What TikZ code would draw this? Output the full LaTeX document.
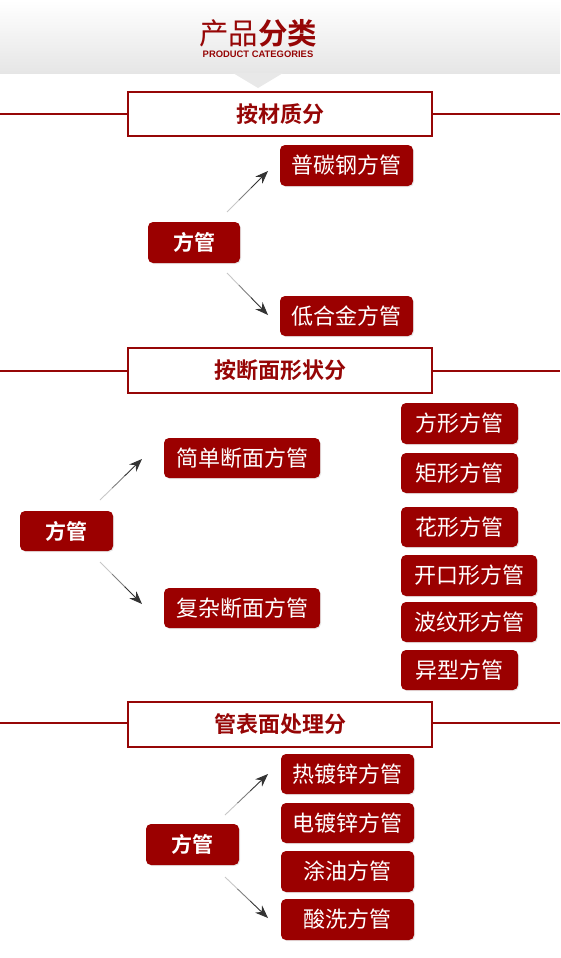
\documentclass[tikz,border=0pt]{standalone}
\usepackage{fontspec}
\newfontfamily\cjk{Noto Sans CJK SC}[BoldFont={Noto Sans CJK SC Bold}]
\newfontfamily\latinf{Liberation Sans}
\usetikzlibrary{arrows.meta,shadows,calc}
\definecolor{dred}{RGB}{155,0,0}
\definecolor{hred}{RGB}{150,6,6}
\newcommand\fadearr[2]{%
  \draw[draw=black!22, line width=0.9pt] (#1) -- ($(#1)!0.3!(#2)$);
  \draw[draw=black!50, line width=0.9pt] ($(#1)!0.29!(#2)$) -- ($(#1)!0.6!(#2)$);
  \draw[arr] ($(#1)!0.59!(#2)$) -- (#2);}
\begin{document}
\begin{tikzpicture}[x=1pt,y=-1pt,
  redbox/.style={fill=dred, rounded corners=5pt, text=white, inner sep=0pt,
    font=\cjk\fontsize{22}{22}\selectfont,
    drop shadow={opacity=0.18, shadow xshift=1pt, shadow yshift=-1pt}},
  rootbox/.style={redbox, font=\cjk\bfseries\fontsize{21}{21}\selectfont},
  secbox/.style={draw=hred, line width=2.6pt, fill=white, inner sep=0pt,
    minimum width=304pt, minimum height=44pt, text=hred,
    font=\cjk\bfseries\fontsize{22}{22}\selectfont},
  secline/.style={draw=hred, line width=2.6pt},
  arr/.style={draw=black!80, line width=0.9pt, -{Stealth[length=13pt,width=10pt]}}]
\useasboundingbox (0,0) rectangle (560,958);
\fill[white] (0,0) rectangle (560,958);
% header band
\shade[top color=white, bottom color=black!10] (0,0) rectangle (560,73);
\fill[black!9] (233,73) -- (283,73) -- (258,88) -- cycle;
\node[text=hred, font=\cjk\fontsize{29.5}{30}\selectfont, inner sep=0pt] (title) at (258,33)
  {产品\textbf{分类}};
\node[text=hred, font=\latinf\bfseries\fontsize{9.4}{10}\selectfont, inner sep=0pt] (sub) at (258,54)
  {PRODUCT CATEGORIES};

% ---------- section 1
\draw[secline] (0,114) -- (560,114);
\node[secbox] (s1) at (280,114) {按材质分};
\node[rootbox, minimum width=92pt, minimum height=41pt] (r1) at (194,242.5) {方管};
\node[redbox, minimum width=133pt, minimum height=41pt] (pt) at (346.5,165.5) {普碳钢方管};
\node[redbox, minimum width=133pt, minimum height=40pt] (dh) at (346.5,316) {低合金方管};
\coordinate (a1s) at (227,212); \coordinate (a1e) at (268,171);
\coordinate (a2s) at (227,273); \coordinate (a2e) at (268,315);
\fadearr{a1s}{a1e}
\fadearr{a2s}{a2e}

% ---------- section 2
\draw[secline] (0,371) -- (560,371);
\node[secbox, minimum height=45pt] (s2) at (280,370.5) {按断面形状分};
\node[rootbox, minimum width=93pt, minimum height=40pt] (r2) at (66.5,531) {方管};
\node[redbox, minimum width=156pt, minimum height=40pt] (jd) at (242,458) {简单断面方管};
\node[redbox, minimum width=156pt, minimum height=40pt] (fz) at (242,608) {复杂断面方管};
\node[redbox, minimum width=117pt, minimum height=41pt] (fx) at (459.5,423.5) {方形方管};
\node[redbox, minimum width=117pt, minimum height=40pt] (jx) at (459.5,473) {矩形方管};
\node[redbox, minimum width=117pt, minimum height=40pt] (hx) at (459.5,527) {花形方管};
\node[redbox, minimum width=136pt, minimum height=41pt] (kk) at (469,575.5) {开口形方管};
\node[redbox, minimum width=136pt, minimum height=40pt] (bw) at (469,622) {波纹形方管};
\node[redbox, minimum width=117pt, minimum height=40pt] (yx) at (459.5,670) {异型方管};
\coordinate (b1s) at (100,500); \coordinate (b1e) at (142,459);
\coordinate (b2s) at (100,562); \coordinate (b2e) at (142,604);
\fadearr{b1s}{b1e}
\fadearr{b2s}{b2e}

% ---------- section 3
\draw[secline] (0,723) -- (560,723);
\node[secbox, minimum height=45pt] (s3) at (280,724.5) {管表面处理分};
\node[rootbox, minimum width=93pt, minimum height=41pt] (r3) at (192.5,844.5) {方管};
\node[redbox, minimum width=133pt, minimum height=40pt] (rd) at (347.5,774) {热镀锌方管};
\node[redbox, minimum width=133pt, minimum height=40pt] (dd) at (347.5,823) {电镀锌方管};
\node[redbox, minimum width=133pt, minimum height=41pt] (ty) at (347.5,871.5) {涂油方管};
\node[redbox, minimum width=133pt, minimum height=41pt] (sx) at (347.5,919.5) {酸洗方管};
\coordinate (c1s) at (225,815); \coordinate (c1e) at (268,774);
\coordinate (c2s) at (225,877); \coordinate (c2e) at (268,918);
\fadearr{c1s}{c1e}
\fadearr{c2s}{c2e}
\end{tikzpicture}
\end{document}
